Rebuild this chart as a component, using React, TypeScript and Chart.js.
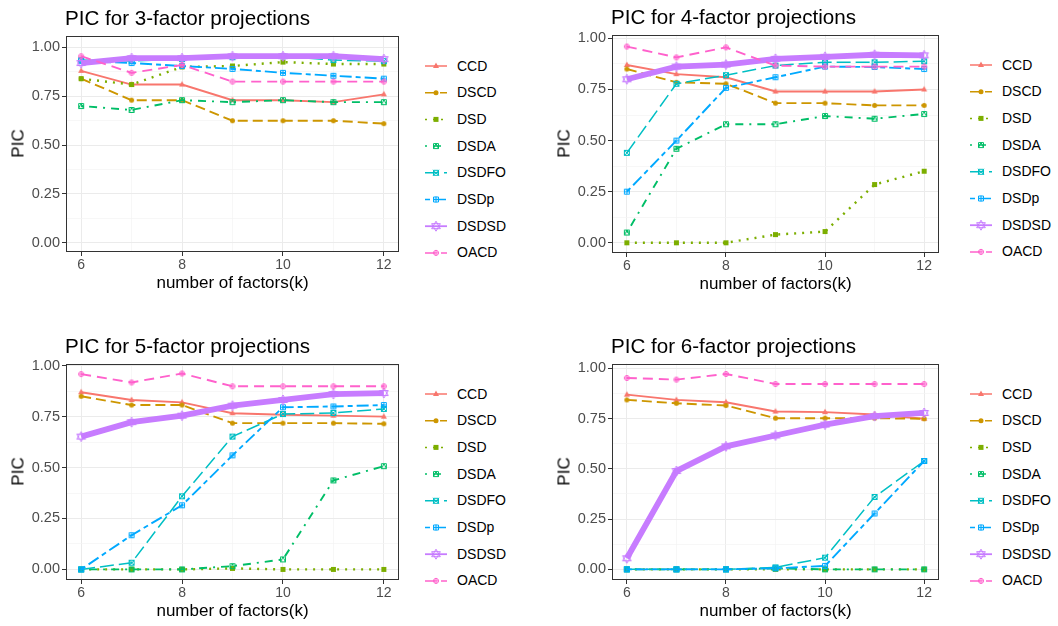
import React, { useEffect, useRef } from "react";
import { Chart, registerables } from "chart.js";

Chart.register(...registerables);

// ---------------- data ----------------
const kValues = [6, 7, 8, 9, 10, 11, 12];
const designNames = ["CCD", "DSCD", "DSD", "DSDA", "DSDFO", "DSDp", "DSDSD", "OACD"];
const designColors = ["#F8766D", "#CD9600", "#7CAE00", "#00BE67", "#00BFC4", "#00A9FF", "#C77CFF", "#FF61CC"];
const xMajorTicks = [6, 8, 10, 12];
const xMinorTicks = [7, 9, 11];
const yMajorTicks = [0, 0.25, 0.5, 0.75, 1];
const yMinorTicks = [0.125, 0.375, 0.625, 0.875];
const panelTitles = [
  "PIC for 3-factor projections",
  "PIC for 4-factor projections",
  "PIC for 5-factor projections",
  "PIC for 6-factor projections",
];
const xAxisTitle = "number of factors(k)";
const yAxisTitle = "PIC";

// 3-factor projections
const f3CCD = [0.88, 0.81, 0.81, 0.73, 0.73, 0.72, 0.76];
const f3DSCD = [0.84, 0.73, 0.73, 0.625, 0.625, 0.625, 0.61];
const f3DSD = [0.84, 0.81, 0.9, 0.905, 0.925, 0.915, 0.915];
const f3DSDA = [0.7, 0.68, 0.73, 0.72, 0.73, 0.72, 0.72];
const f3DSDFO = [0.935, 0.93, 0.94, 0.95, 0.955, 0.935, 0.93];
const f3DSDp = [0.93, 0.92, 0.905, 0.89, 0.87, 0.855, 0.84];
const f3DSDSD = [0.92, 0.945, 0.945, 0.955, 0.955, 0.955, 0.94];
const f3OACD = [0.955, 0.87, 0.91, 0.825, 0.825, 0.825, 0.825];

// 4-factor projections
const f4CCD = [0.87, 0.825, 0.81, 0.74, 0.74, 0.74, 0.75];
const f4DSCD = [0.85, 0.785, 0.778, 0.683, 0.683, 0.672, 0.672];
const f4DSD = [0, 0, 0, 0.04, 0.055, 0.285, 0.35];
const f4DSDA = [0.05, 0.46, 0.58, 0.58, 0.62, 0.607, 0.63];
const f4DSDFO = [0.44, 0.778, 0.82, 0.867, 0.883, 0.883, 0.888];
const f4DSDp = [0.25, 0.5, 0.758, 0.81, 0.862, 0.86, 0.85];
const f4DSDSD = [0.8, 0.862, 0.872, 0.9, 0.91, 0.92, 0.917];
const f4OACD = [0.96, 0.907, 0.956, 0.867, 0.862, 0.862, 0.862];

// 5-factor projections
const f5CCD = [0.87, 0.832, 0.82, 0.767, 0.759, 0.755, 0.75];
const f5DSCD = [0.85, 0.807, 0.807, 0.718, 0.718, 0.718, 0.715];
const f5DSD = [0, 0, 0, 0.005, 0, 0, 0];
const f5DSDA = [0, 0, 0, 0.016, 0.049, 0.437, 0.507];
const f5DSDFO = [0, 0.033, 0.359, 0.652, 0.763, 0.768, 0.788];
const f5DSDp = [0, 0.168, 0.315, 0.56, 0.796, 0.8, 0.807];
const f5DSDSD = [0.652, 0.723, 0.755, 0.804, 0.832, 0.861, 0.866];
const f5OACD = [0.959, 0.918, 0.962, 0.899, 0.899, 0.899, 0.899];

// 6-factor projections
const f6CCD = [0.869, 0.843, 0.831, 0.785, 0.782, 0.77, 0.749];
const f6DSCD = [0.843, 0.826, 0.815, 0.752, 0.752, 0.752, 0.749];
const f6DSD = [0, 0, 0, 0, 0, 0, 0];
const f6DSDA = [0, 0, 0, 0.005, 0, 0, 0];
const f6DSDFO = [0, 0, 0, 0.01, 0.058, 0.36, 0.539];
const f6DSDp = [0, 0, 0, 0.005, 0.017, 0.278, 0.539];
const f6DSDSD = [0.055, 0.489, 0.612, 0.666, 0.72, 0.762, 0.778];
const f6OACD = [0.952, 0.944, 0.972, 0.922, 0.922, 0.922, 0.922];

const panelSeries = [
  [f3CCD, f3DSCD, f3DSD, f3DSDA, f3DSDFO, f3DSDp, f3DSDSD, f3OACD],
  [f4CCD, f4DSCD, f4DSD, f4DSDA, f4DSDFO, f4DSDp, f4DSDSD, f4OACD],
  [f5CCD, f5DSCD, f5DSD, f5DSDA, f5DSDFO, f5DSDp, f5DSDSD, f5OACD],
  [f6CCD, f6DSCD, f6DSD, f6DSDA, f6DSDFO, f6DSDp, f6DSDSD, f6OACD],
];

// ---------------- styles / layout ----------------
const FONT = '"Liberation Sans", Arial, Helvetica, sans-serif';
const TICK_COLOR = "#4D4D4D";

const seriesStyles = [
  { dash: [], width: 1.9, shape: "triangle", size: 6 },
  { dash: [10, 5], width: 1.9, shape: "circle", size: 5 },
  { dash: [2, 6], width: 2.4, shape: "square", size: 5 },
  { dash: [2, 6, 8, 6], width: 1.9, shape: "squareTriangle", size: 6 },
  { dash: [14, 5], width: 1.5, shape: "squareCross", size: 6 },
  { dash: [5, 4, 12, 4], width: 1.9, shape: "squarePlus", size: 6 },
  { dash: [], width: 5.8, shape: "star", size: 10 },
  { dash: [10, 6], width: 1.9, shape: "circlePlus", size: 6 },
];

const panelLayouts = [
  { l: 66, t: 35, r: 399, b: 252, yMin: -0.047, yMax: 1.06, legendX: 425 },
  { l: 612, t: 34, r: 939, b: 253, yMin: -0.05, yMax: 1.018, legendX: 970 },
  { l: 66, t: 363, r: 399, b: 580, yMin: -0.052, yMax: 1.01, legendX: 425 },
  { l: 612, t: 363, r: 939, b: 580, yMin: -0.053, yMax: 1.023, legendX: 970 },
];

const YW = 50; // y axis box width
const XH = 26; // x axis box height
const PT = 10; // top padding
const PR = 12; // right padding

function drawShape(ctx: CanvasRenderingContext2D, shape: string, cx: number, cy: number, s: number, color: string) {
  const h = s / 2;
  ctx.save();
  ctx.fillStyle = color;
  ctx.strokeStyle = color;
  ctx.lineWidth = 1;
  ctx.setLineDash([]);
  ctx.beginPath();
  switch (shape) {
    case "triangle":
      ctx.moveTo(cx, cy - h * 1.15);
      ctx.lineTo(cx + h, cy + h * 0.7);
      ctx.lineTo(cx - h, cy + h * 0.7);
      ctx.closePath();
      ctx.fill();
      break;
    case "circle":
      ctx.arc(cx, cy, h, 0, Math.PI * 2);
      ctx.fill();
      break;
    case "square":
      ctx.rect(cx - h, cy - h, s, s);
      ctx.fill();
      break;
    case "squareTriangle":
      ctx.rect(cx - h + 0.5, cy - h + 0.5, s - 1, s - 1);
      ctx.moveTo(cx - h + 0.5, cy + h - 0.5);
      ctx.lineTo(cx, cy - h + 0.5);
      ctx.lineTo(cx + h - 0.5, cy + h - 0.5);
      ctx.stroke();
      break;
    case "squareCross":
      ctx.rect(cx - h + 0.5, cy - h + 0.5, s - 1, s - 1);
      ctx.moveTo(cx - h, cy - h);
      ctx.lineTo(cx + h, cy + h);
      ctx.moveTo(cx + h, cy - h);
      ctx.lineTo(cx - h, cy + h);
      ctx.stroke();
      break;
    case "squarePlus":
      ctx.rect(cx - h + 0.5, cy - h + 0.5, s - 1, s - 1);
      ctx.moveTo(cx, cy - h);
      ctx.lineTo(cx, cy + h);
      ctx.moveTo(cx - h, cy);
      ctx.lineTo(cx + h, cy);
      ctx.stroke();
      break;
    case "star":
      ctx.moveTo(cx, cy - h);
      ctx.lineTo(cx + h * 0.87, cy + h * 0.5);
      ctx.lineTo(cx - h * 0.87, cy + h * 0.5);
      ctx.closePath();
      ctx.moveTo(cx, cy + h);
      ctx.lineTo(cx + h * 0.87, cy - h * 0.5);
      ctx.lineTo(cx - h * 0.87, cy - h * 0.5);
      ctx.closePath();
      ctx.stroke();
      break;
    case "circlePlus":
      ctx.arc(cx, cy, h - 0.5, 0, Math.PI * 2);
      ctx.moveTo(cx, cy - h);
      ctx.lineTo(cx, cy + h);
      ctx.moveTo(cx - h, cy);
      ctx.lineTo(cx + h, cy);
      ctx.stroke();
      break;
  }
  ctx.restore();
}

function makePointCanvas(shape: string, size: number, color: string) {
  const c = document.createElement("canvas");
  const dim = Math.ceil(size + 4);
  c.width = dim;
  c.height = dim;
  const ctx = c.getContext("2d")!;
  drawShape(ctx, shape, dim / 2, dim / 2, size, color);
  return c;
}

const isIn = (arr: number[], v: number) => arr.some((a) => Math.abs(a - v) < 1e-6);

const panelBorder = {
  id: "panelBorder",
  afterDraw(chart: any) {
    const { left, top, right, bottom } = chart.chartArea;
    const ctx = chart.ctx;
    ctx.save();
    ctx.strokeStyle = "#333333";
    ctx.lineWidth = 1;
    ctx.strokeRect(Math.round(left) + 0.5, Math.round(top) + 0.5, Math.round(right - left) - 1, Math.round(bottom - top) - 1);
    ctx.restore();
  },
};

function Panel({ index }: { index: number }) {
  const ref = useRef<HTMLCanvasElement>(null);
  const lay = panelLayouts[index];
  const W = YW + (lay.r - lay.l) + PR;
  const H = PT + (lay.b - lay.t) + XH;

  useEffect(() => {
    if (!ref.current) return;
    const series = panelSeries[index];
    const datasets = designNames.map((name, i) => ({
      label: name,
      data: kValues.map((k, j) => ({ x: k, y: series[i][j] })),
      borderColor: designColors[i],
      backgroundColor: designColors[i],
      borderWidth: seriesStyles[i].width,
      borderDash: seriesStyles[i].dash,
      pointStyle: makePointCanvas(seriesStyles[i].shape, seriesStyles[i].size, designColors[i]),
      pointRadius: 3,
      tension: 0,
      fill: false,
      order: designNames.length - i,
    }));
    const xAll = [...xMajorTicks, ...xMinorTicks].sort((a, b) => a - b);
    const yAll = [...yMajorTicks, ...yMinorTicks].sort((a, b) => a - b);
    const chart = new Chart(ref.current, {
      type: "line",
      data: { datasets } as any,
      options: {
        animation: false,
        responsive: false,
        devicePixelRatio: 1,
        events: [],
        layout: { padding: { top: PT, right: PR, left: 0, bottom: 0 } },
        plugins: {
          legend: { display: false },
          tooltip: { enabled: false },
          title: { display: false },
        },
        scales: {
          x: {
            type: "linear",
            min: 5.7,
            max: 12.3,
            afterBuildTicks: (s: any) => {
              s.ticks = xAll.map((v) => ({ value: v }));
            },
            afterFit: (s: any) => {
              s.height = XH;
            },
            border: { display: false },
            grid: {
              color: (c: any) => (isIn(xMajorTicks, c.tick?.value) ? "#EBEBEB" : "#F3F3F3"),
              lineWidth: (c: any) => (isIn(xMajorTicks, c.tick?.value) ? 1 : 0.7),
              tickColor: (c: any) => (isIn(xMajorTicks, c.tick?.value) ? "#333333" : "rgba(0,0,0,0)"),
              tickWidth: 1,
              tickLength: 4,
              drawTicks: true,
            },
            ticks: {
              autoSkip: false,
              maxRotation: 0,
              padding: 1,
              color: TICK_COLOR,
              font: { family: FONT, size: 14 },
              callback: (v: any) => (isIn(xMajorTicks, v) ? String(v) : ""),
            },
          },
          y: {
            type: "linear",
            min: lay.yMin,
            max: lay.yMax,
            afterBuildTicks: (s: any) => {
              s.ticks = yAll.map((v) => ({ value: v }));
            },
            afterFit: (s: any) => {
              s.width = YW;
            },
            border: { display: false },
            grid: {
              color: (c: any) => (isIn(yMajorTicks, c.tick?.value) ? "#EBEBEB" : "#F3F3F3"),
              lineWidth: (c: any) => (isIn(yMajorTicks, c.tick?.value) ? 1 : 0.7),
              tickColor: (c: any) => (isIn(yMajorTicks, c.tick?.value) ? "#333333" : "rgba(0,0,0,0)"),
              tickWidth: 1,
              tickLength: 4,
              drawTicks: true,
            },
            ticks: {
              autoSkip: false,
              padding: 2,
              color: TICK_COLOR,
              font: { family: FONT, size: 14.5 },
              callback: (v: any) => (isIn(yMajorTicks, v) ? Number(v).toFixed(2) : ""),
            },
          },
        },
      } as any,
      plugins: [panelBorder],
    });
    return () => chart.destroy();
  }, [index]);

  return (
    <canvas
      ref={ref}
      width={W}
      height={H}
      style={{ position: "absolute", left: lay.l - YW, top: lay.t - PT, width: W, height: H }}
    />
  );
}

const ROW_GAP = 26.7;

function LegendKeys({ index }: { index: number }) {
  const ref = useRef<HTMLCanvasElement>(null);
  useEffect(() => {
    const c = ref.current;
    if (!c) return;
    const ctx = c.getContext("2d")!;
    ctx.clearRect(0, 0, c.width, c.height);
    designNames.forEach((_, i) => {
      const cy = 14 + i * ROW_GAP;
      const st = seriesStyles[i];
      ctx.save();
      ctx.strokeStyle = designColors[i];
      ctx.lineWidth = i === 6 ? 1.8 : 1.5;
      ctx.setLineDash(st.dash);
      ctx.beginPath();
      ctx.moveTo(1, cy);
      ctx.lineTo(23, cy);
      ctx.stroke();
      ctx.restore();
      drawShape(ctx, st.shape, 12, cy, st.size, designColors[i]);
    });
  }, [index]);
  const lay = panelLayouts[index];
  const top = lay.t + 30.5 - 14;
  return (
    <canvas
      ref={ref}
      width={26}
      height={Math.ceil(28 + ROW_GAP * 7)}
      style={{ position: "absolute", left: lay.legendX - 1, top }}
    />
  );
}

function PanelTexts({ index }: { index: number }) {
  const lay = panelLayouts[index];
  const midX = (lay.l + lay.r) / 2;
  const midY = (lay.t + lay.b) / 2;
  return (
    <>
      <div
        style={{
          position: "absolute",
          left: lay.l - 1,
          top: lay.t - 27,
          fontFamily: FONT,
          fontSize: 20.6,
          lineHeight: "20px",
          color: "#000",
          whiteSpace: "nowrap",
        }}
      >
        {panelTitles[index]}
      </div>
      <div
        style={{
          position: "absolute",
          left: midX - 150,
          width: 300,
          textAlign: "center",
          top: lay.b + 22,
          fontFamily: FONT,
          fontSize: 17,
          lineHeight: "17px",
          color: "#000",
          whiteSpace: "nowrap",
        }}
      >
        {xAxisTitle}
      </div>
      <div
        style={{
          position: "absolute",
          left: lay.l - 48 - 30,
          top: midY - 9,
          width: 60,
          textAlign: "center",
          transform: "rotate(-90deg)",
          fontFamily: FONT,
          fontSize: 17,
          lineHeight: "17px",
          color: "#000",
        }}
      >
        {yAxisTitle}
      </div>
      {designNames.map((name, i) => (
        <div
          key={name}
          style={{
            position: "absolute",
            left: lay.legendX + 32,
            top: lay.t + 30.5 + i * ROW_GAP - 8,
            fontFamily: FONT,
            fontSize: 14,
            lineHeight: "16px",
            color: "#000",
            whiteSpace: "nowrap",
          }}
        >
          {name}
        </div>
      ))}
      <LegendKeys index={index} />
    </>
  );
}

export default function App() {
  useEffect(() => {
    document.body.style.margin = "0";
  }, []);
  return (
    <div
      style={{
        position: "fixed",
        left: 0,
        top: 0,
        width: 1058,
        height: 626,
        background: "#FFFFFF",
        overflow: "hidden",
      }}
    >
      {[0, 1, 2, 3].map((i) => (
        <React.Fragment key={i}>
          <Panel index={i} />
          <PanelTexts index={i} />
        </React.Fragment>
      ))}
    </div>
  );
}
